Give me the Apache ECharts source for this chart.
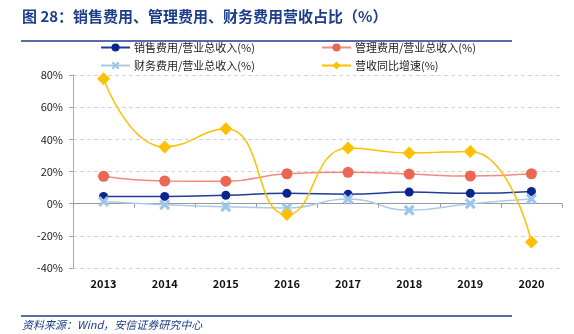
<!DOCTYPE html>
<html><head><meta charset="utf-8">
<script src="https://cdn.jsdelivr.net/npm/echarts@6/dist/echarts.min.js"></script>
<style>html,body{margin:0;padding:0;background:#fff}#c{width:574px;height:334px}</style>
</head><body><div id="c"></div>
<script>
const categories = ['2013','2014','2015','2016','2017','2018','2019','2020'];
const salesRatio = [4.5, 4.5, 5.2, 6.4, 5.9, 7.2, 6.4, 7.6];
const adminRatio = [17.0, 14.1, 14.0, 18.6, 19.5, 18.4, 17.2, 18.6];
const finRatio = [1.4, -0.6, -1.9, -2.7, 2.9, -4.1, 0.0, 2.9];
const revGrowth = [77.6, 35.2, 46.6, -6.8, 34.6, 31.5, 32.5, -23.8];
const yTicks = [-40, -20, 0, 20, 40, 60, 80];
const names = ['销售费用/营业总收入(%)','管理费用/营业总收入(%)','财务费用/营业总收入(%)','营收同比增速(%)'];
const xPath = 'path://M2,0 L5,3 L8,0 L10,2 L7,5 L10,8 L8,10 L5,7 L2,10 L0,8 L3,5 L0,2 Z';
const chart = echarts.init(document.getElementById('c'));
const font = '"Noto Sans CJK SC","Microsoft YaHei",sans-serif';
function lg(name, left, top){
  return {data:[name], left:left, top:top, itemWidth:29, itemHeight:10, itemGap:0,
    textStyle:{fontSize:11, color:'#222', fontFamily:font, padding:[0,0,0,-1]}, padding:0};
}
chart.setOption({
  animation:false,
  textStyle:{fontFamily:font},
  graphic:[
    {type:'text', left:22, top:9, style:{text:'图 28：销售费用、管理费用、财务费用营收占比（%）', fill:'#1c3d8c', font:'bold 15px '+font}},
    {type:'line', shape:{x1:21,y1:41,x2:512,y2:41}, style:{stroke:'#1c3d8c', lineWidth:1.5}},
    {type:'line', shape:{x1:21,y1:316,x2:512,y2:316}, style:{stroke:'#1c3d8c', lineWidth:1.5}},
    {type:'text', left:22, top:319, style:{text:'资料来源：Wind，安信证券研究中心', fill:'#1c3d8c', font:'italic 11px '+font}}
  ],
  legend:[lg(names[0],100,42), lg(names[1],321,42), lg(names[2],100,60), lg(names[3],321,60)],
  grid:{left:73, right:12, top:75, bottom:66},
  xAxis:{type:'category', data:categories, boundaryGap:true,
    axisLine:{onZero:true, lineStyle:{color:'#999'}},
    axisTick:{show:true, alignWithLabel:false, length:4, lineStyle:{color:'#999'}},
    axisLabel:{fontWeight:'bold', fontSize:11, color:'#111', margin:10}
  },
  yAxis:{type:'value', min:-40, max:80, interval:20,
    axisLine:{show:true, lineStyle:{color:'#aaa'}},
    axisTick:{show:true, length:4, lineStyle:{color:'#aaa'}},
    axisLabel:{formatter:v=>v+'%', fontSize:11, color:'#222', margin:10},
    splitLine:{lineStyle:{color:'#d5d5d5', type:[4,3]}}
  },
  series:[
    {name:names[0], type:'line', data:salesRatio, smooth:true, symbol:'circle', symbolSize:9,
      lineStyle:{color:'#1f3c9a', width:1.5}, itemStyle:{color:'#0b2590'}},
    {name:names[1], type:'line', data:adminRatio, smooth:true, symbol:'circle', symbolSize:11,
      lineStyle:{color:'#f08a80', width:1.5}, itemStyle:{color:'#ea6753'}},
    {name:names[2], type:'line', data:finRatio, smooth:true, symbol:xPath, symbolSize:11,
      lineStyle:{color:'#a9cbe9', width:1.5}, itemStyle:{color:'#9fc4e8'}},
    {name:names[3], type:'line', data:revGrowth, smooth:true, symbol:'diamond', symbolSize:13,
      lineStyle:{color:'#ffc000', width:1.5}, itemStyle:{color:'#ffc000'}}
  ]
});
</script></body></html>
